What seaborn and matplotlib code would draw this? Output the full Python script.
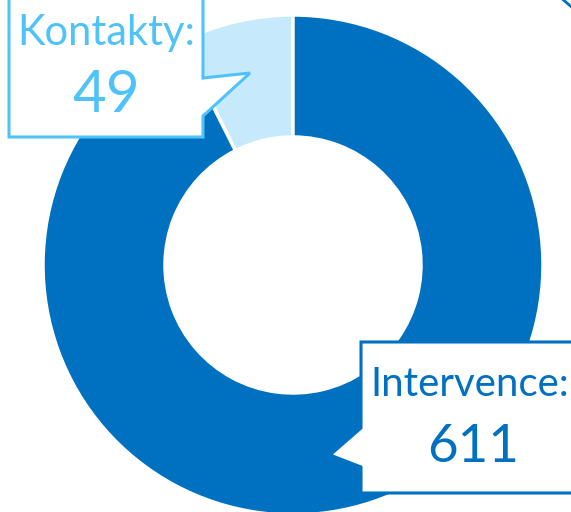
import matplotlib
matplotlib.use("Agg")
import matplotlib.pyplot as plt
import seaborn as sns
from matplotlib.patches import Polygon

categories = ["Kontakty", "Intervence"]
values = [49, 611]
slice_colors = ["#C6E9FB", "#0070C0"]
label_colors = ["#4FC3F7", "#0070C0"]

sns.set_theme(style="white")
plt.rcParams["font.family"] = ["Lato", "DejaVu Sans"]

W, H = 571, 512
fig = plt.figure(figsize=(W / 100, H / 100), dpi=100)
ax = fig.add_axes([0, 0, 1, 1])


def px(x, y):
    # pixel coords (y down) -> data coords (y up)
    return (x, H - y)


# donut
ax.pie(values, colors=slice_colors, startangle=90, counterclock=True,
       center=px(293, 265), radius=250, frame=True,
       wedgeprops=dict(width=122, edgecolor="white", linewidth=2.5))
ax.set_xlim(0, W)
ax.set_ylim(0, H)
ax.set_aspect("equal")
ax.axis("off")

# callout boxes
kont_box = [(9, -10), (203, -10), (203, 78), (250, 73), (203, 116), (203, 137), (9, 137)]
int_box = [(361, 342), (590, 342), (590, 493), (361, 493), (361, 467), (330, 455), (361, 428)]
for pts, col in [(kont_box, label_colors[0]), (int_box, label_colors[1])]:
    ax.add_patch(Polygon([px(x, y) for x, y in pts], closed=True, facecolor="white",
                         edgecolor=col, linewidth=2.2, joinstyle="miter", zorder=5))

# labels
ax.text(*px(106, 33), f"{categories[0]}:", color=label_colors[0], fontsize=30,
        ha="center", va="center", zorder=6)
ax.text(*px(106, 95), f"{values[0]}", color=label_colors[0], fontsize=42,
        ha="center", va="center", zorder=6)
ax.text(*px(470, 384), f"{categories[1]}:", color=label_colors[1], fontsize=29,
        ha="center", va="center", zorder=6)
ax.text(*px(473, 447), f"{values[1]}", color=label_colors[1], fontsize=38,
        ha="center", va="center", zorder=6)

# corner stroke at top right
ax.plot([px(560, -3)[0], px(575, 10)[0]], [px(560, -3)[1], px(575, 10)[1]],
        color="#0070C0", linewidth=2)

fig.savefig("out.png", dpi=100)
